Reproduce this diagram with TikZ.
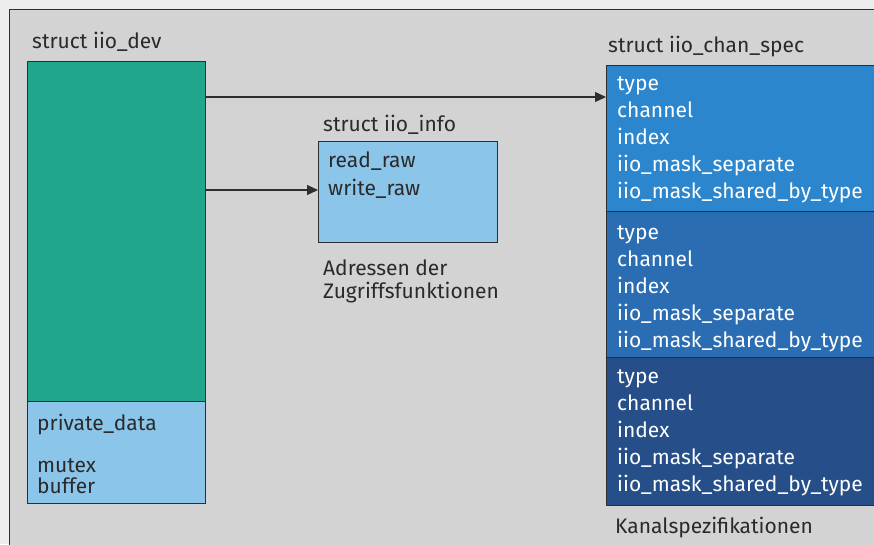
\documentclass[tikz,border=0pt]{standalone}
\usepackage{fontspec}
\setmainfont{Fira Sans}
\usetikzlibrary{arrows.meta}

\definecolor{papergray}{HTML}{EDEDED}
\definecolor{framegray}{HTML}{D3D3D3}
\definecolor{linegray}{HTML}{2E2E2E}
\definecolor{textgray}{HTML}{2A2A2A}
\definecolor{devgreen}{HTML}{1FA68B}
\definecolor{lightblue}{HTML}{8CC5EA}
\definecolor{chanblueA}{HTML}{2C86CD}
\definecolor{chanblueB}{HTML}{2A6DB2}
\definecolor{chanblueC}{HTML}{264F89}

\begin{document}
\begin{tikzpicture}[x=1pt, y=-1pt,
    box/.style={draw=linegray, line width=1pt, anchor=north west, inner sep=0pt},
    lbl/.style={anchor=base west, inner sep=0pt, text=textgray, font=\fontsize{21}{25}\selectfont},
    wlbl/.style={lbl, text=white},
    arr/.style={draw=linegray, line width=1.2pt, -{Triangle[length=11pt, width=10pt]}}]
    \clip (0,0) rectangle (874,544);
    \fill[papergray] (0,0) rectangle (874,544);
    \draw[fill=framegray, draw=linegray, line width=1pt] (9,9) rectangle (900,570);

    % struct iio_dev
    \node[lbl] (devtitle) at (32,48) {struct iio\_dev};
    \node[box, fill=devgreen, minimum width=178pt, minimum height=340pt] (dev) at (27,61) {};
    \node[box, fill=lightblue, minimum width=178pt, minimum height=102pt] (priv) at (27,401) {};
    \node[lbl] (privdata) at (37,430) {private\_data};
    \node[lbl] (mutex) at (37,472) {mutex};
    \node[lbl] (buffer) at (37,493) {buffer};

    % struct iio_info
    \node[lbl] (infotitle) at (323,131) {struct iio\_info};
    \node[box, fill=lightblue, minimum width=179pt, minimum height=101pt] (info) at (318,141) {};
    \node[lbl] (readraw) at (328,167) {read\_raw};
    \node[lbl] (writeraw) at (328,195) {write\_raw};
    \node[lbl] (addr1) at (323,275) {Adressen der};
    \node[lbl] (addr2) at (323,298) {Zugriffsfunktionen};

    % struct iio_chan_spec
    \node[lbl] (chantitle) at (608,52) {struct iio\_chan\_spec};
    \node[box, fill=chanblueA, minimum width=290pt, minimum height=146pt] (chanA) at (606,65) {};
    \node[box, fill=chanblueB, minimum width=290pt, minimum height=146pt] (chanB) at (606,211) {};
    \node[box, fill=chanblueC, minimum width=290pt, minimum height=148pt] (chanC) at (606,357) {};
    \foreach \sec/\top in {A/90, B/239, C/383} {
      \foreach \txt [count=\i from 0] in {type, channel, index, iio\_mask\_separate, iio\_mask\_shared\_by\_type}
        \node[wlbl] (field\sec\i) at (617,\top+27*\i) {\txt};
    }
    \node[lbl] (chancap) at (615,533) {Kanalspezifikationen};

    % pointers
    \coordinate (ptrA) at (0,97);
    \coordinate (ptrB) at (0,190);
    \draw[arr] (dev.east |- ptrA) -- (chanA.west |- ptrA);
    \draw[arr] (dev.east |- ptrB) -- (info.west |- ptrB);
\end{tikzpicture}
\end{document}
